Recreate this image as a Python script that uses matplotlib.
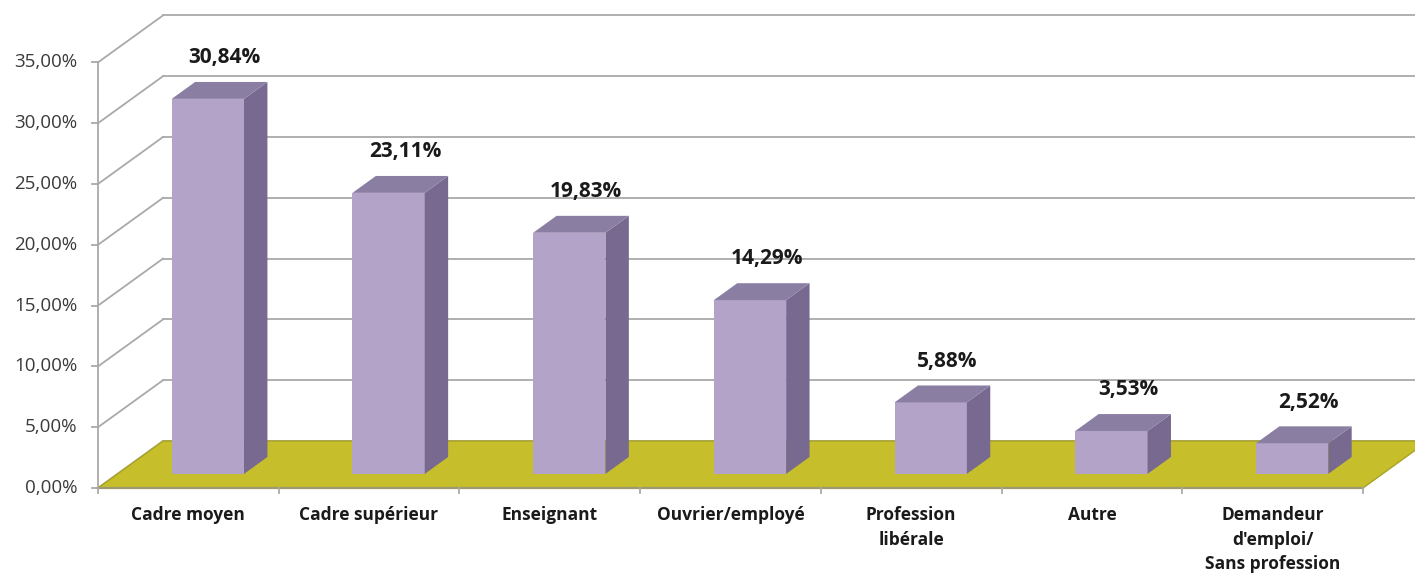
import matplotlib.pyplot as plt
from matplotlib.patches import Polygon

plt.rcParams['font.family'] = ['Open Sans', 'DejaVu Sans']

# Répartition par catégorie socio-professionnelle
categories = ['Cadre moyen', 'Cadre supérieur', 'Enseignant', 'Ouvrier/employé',
              'Profession\nlibérale', 'Autre', "Demandeur\nd'emploi/\nSans profession"]
values = [30.84, 23.11, 19.83, 14.29, 5.88, 3.53, 2.52]
value_labels = ['30,84%', '23,11%', '19,83%', '14,29%', '5,88%', '3,53%', '2,52%']
y_ticks = [0, 5, 10, 15, 20, 25, 30, 35]
y_tick_labels = ['0,00%', '5,00%', '10,00%', '15,00%', '20,00%', '25,00%', '30,00%', '35,00%']

# oblique projection: offset of the back wall in data units
DX, DY = 0.36, 3.865
D0, D1 = 0.30, 0.66      # depth range of the bars
BAR_W = 0.40

FRONT = '#b4a3c9'
TOP = '#8b7ea3'
SIDE = '#77698f'
FLOOR = '#c6bf2b'
GRID = '#a9a9a9'

fig = plt.figure(figsize=(14.15, 5.78), dpi=100)
ax = fig.add_axes([0, 0, 1, 1])
ax.set_xlim(-0.5423, 7.288)
ax.set_ylim(-7.40, 40.13)
ax.axis('off')

n = len(categories)

# back wall gridlines + side diagonals
for t in y_ticks:
    ax.plot([0, DX], [t, t + DY], color=GRID, lw=1.3, zorder=1)
    ax.plot([DX, 7.4], [t + DY, t + DY], color=GRID, lw=1.3, zorder=1)

# vertical axis and its ticks
ax.plot([0, 0], [0, y_ticks[-1]], color=GRID, lw=1.3, zorder=1)
for t, lab in zip(y_ticks, y_tick_labels):
    ax.plot([-0.035, 0], [t, t], color=GRID, lw=1.3, zorder=1)
    ax.text(-0.115, t, lab, ha='right', va='center', fontsize=13.5, color='#3a3a3a')

# floor
floor = Polygon([(0, 0), (n, 0), (n + DX, DY), (DX, DY)], closed=True,
                facecolor=FLOOR, edgecolor='#a9a224', lw=1.0, zorder=2)
ax.add_patch(floor)
ax.plot([0, n], [0, 0], color='#9c9a6e', lw=1.6, zorder=3)
for i in range(n + 1):
    ax.plot([i, i], [0, -0.45], color=GRID, lw=1.3, zorder=3)

# bars
for i, v in enumerate(values):
    x0 = i + 0.5 - BAR_W / 2 + D0 * DX
    x1 = x0 + BAR_W
    y0 = D0 * DY
    ddx = (D1 - D0) * DX
    ddy = (D1 - D0) * DY
    front = Polygon([(x0, y0), (x1, y0), (x1, y0 + v), (x0, y0 + v)],
                    facecolor=FRONT, edgecolor='none', zorder=4)
    side = Polygon([(x1, y0), (x1 + ddx, y0 + ddy), (x1 + ddx, y0 + ddy + v), (x1, y0 + v)],
                   facecolor=SIDE, edgecolor='none', zorder=4)
    top = Polygon([(x0, y0 + v), (x1, y0 + v), (x1 + ddx, y0 + ddy + v), (x0 + ddx, y0 + ddy + v)],
                  facecolor=TOP, edgecolor='none', zorder=4)
    for p in (front, side, top):
        ax.add_patch(p)
    ax.text(i + 0.5 + 0.2, D1 * DY + v + 2.0, value_labels[i], ha='center', va='center',
            fontsize=15, fontweight='bold', color='#1a1a1a', zorder=5)

# category labels
for i, c in enumerate(categories):
    ax.text(i + 0.5, -1.5, c, ha='center', va='top', fontsize=12.5, fontweight='bold',
            color='#1a1a1a', linespacing=1.45)

fig.savefig('out.png', dpi=100)
